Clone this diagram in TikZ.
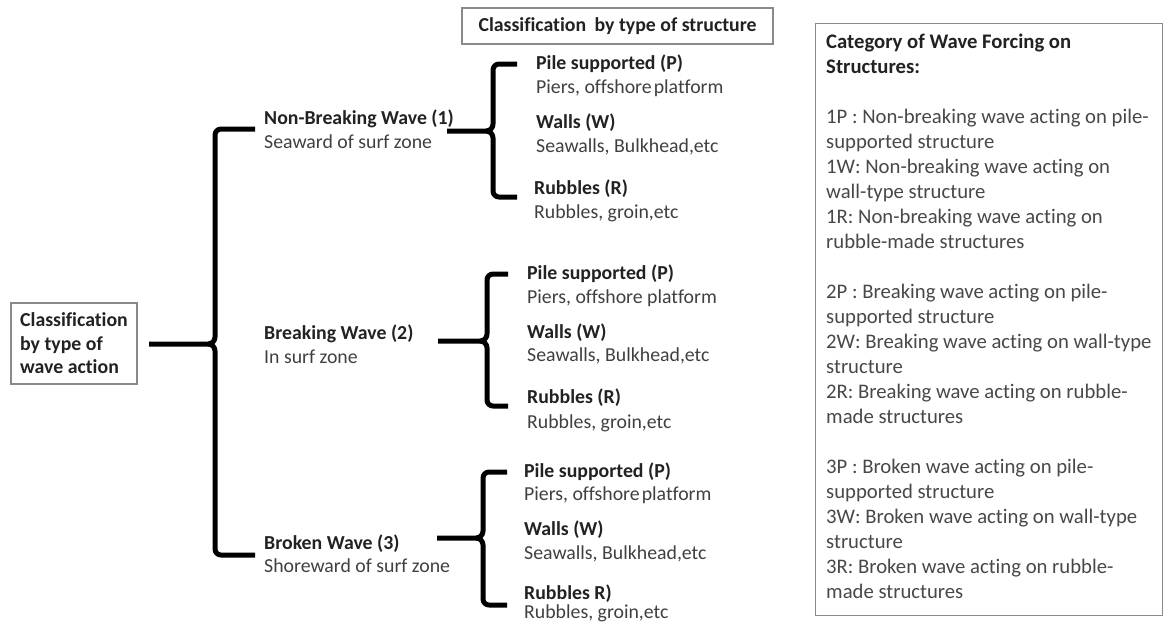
\documentclass[tikz,border=0pt]{standalone}
\usepackage{fontspec}
\setmainfont[Ligatures=NoCommon]{Carlito}
\definecolor{boldtxt}{HTML}{222222}
\definecolor{normtxt}{HTML}{404040}
\definecolor{boxtxt}{HTML}{484848}
\definecolor{boxline}{HTML}{8a8a8a}
\tikzset{
  bracket/.style={line width=5pt, black, line join=round, line cap=butt},
  titletxt/.style={anchor=mid west, inner sep=0pt, yshift=-4pt, text=boldtxt, font=\fontsize{19.8}{24}\selectfont\bfseries},
  subtxt/.style={anchor=mid west, inner sep=0pt, yshift=-4pt, text=normtxt, font=\fontsize{19.8}{24}\selectfont},
  framebox/.style={draw=boxline, line width=1.2pt, inner sep=0pt},
}
% #1 stem x, #2 brace x, #3 tip y, #4 top y, #5 bottom y, #6 arm end x
\newcommand\wbrace[6]{%
  \draw[bracket] (#6,#4) -- ({#2+6},#4) to[out=180,in=90] (#2,{#4+6}) -- (#2,{#3-7}) to[out=-90,in=0] ({#2-7},#3) -- (#1,#3);
  \draw[bracket] ({#2-7},#3) to[out=0,in=90] (#2,{#3+7}) -- (#2,{#5-6}) to[out=-90,in=180] ({#2+6},#5) -- (#6,#5);
}
\begin{document}
\begin{tikzpicture}[x=1pt,y=-1pt]
\useasboundingbox (0,0) rectangle (1164,624);
\clip (0,0) rectangle (1164,624);
\fill[white] (0,0) rectangle (1164,624);

% left box
\node[framebox, minimum width=126pt, minimum height=81pt, align=left,
      text=boldtxt, font=\fontsize{19.8}{23.5}\selectfont\bfseries] (root) at (74,343.5)
  {Classification\\by type of\\wave action};

% top box
\node[framebox, minimum width=311pt, minimum height=36pt, text=boldtxt,
      font=\fontsize{19.8}{24}\selectfont\bfseries] (structhead) at (617.5,26)
  {\raisebox{-1pt}{Classification\hspace{0.2em} by type of structure}};

% wave type nodes
\node[titletxt] (nb) at (264,118) {Non-Breaking Wave (1)};
\node[subtxt] (nbs) at (264,142) {Seaward of surf zone};
\node[titletxt] (bw) at (264,333) {Breaking Wave (2)};
\node[subtxt] (bws) at (264,357) {In surf zone};
\node[titletxt] (bk) at (264,543) {Broken Wave (3)};
\node[subtxt] (bks) at (264,566) {Shoreward of surf zone};

% group 1
\node[titletxt] (p1) at (536,63) {Pile supported (P)};
\node[subtxt] (p1s) at (536,87) {Piers, offshore\hspace{-0.12em} platform};
\node[titletxt] (w1) at (536,122) {Walls (W)};
\node[subtxt] (w1s) at (536,146) {Seawalls, Bulkhead,etc};
\node[titletxt] (r1) at (534,188) {Rubbles (R)};
\node[subtxt] (r1s) at (534,212) {Rubbles, groin,etc};

% group 2
\node[titletxt] (p2) at (527,273) {Pile supported (P)};
\node[subtxt] (p2s) at (527,297) {Piers, offshore platform};
\node[titletxt] (w2) at (527,332) {Walls (W)};
\node[subtxt] (w2s) at (527,355) {Seawalls, Bulkhead,etc};
\node[titletxt] (r2) at (527,397) {Rubbles (R)};
\node[subtxt] (r2s) at (527,422) {Rubbles, groin,etc};

% group 3
\node[titletxt] (p3) at (524,471) {Pile supported (P)};
\node[subtxt] (p3s) at (524,494) {Piers, offshore\hspace{-0.12em} platform};
\node[titletxt] (w3) at (524,529) {Walls (W)};
\node[subtxt] (w3s) at (524,553) {Seawalls, Bulkhead,etc};
\node[titletxt] (r3) at (524,593) {Rubbles R)};
\node[subtxt] (r3s) at (524,612) {Rubbles, groin,etc};

% braces
\wbrace{149}{215}{344}{129}{555}{255}
\wbrace{447}{493}{131}{64}{197}{517}
\wbrace{438}{487}{341}{274}{406}{508}
\wbrace{437}{483}{538}{472}{605}{507}

% right box
\node[framebox, anchor=north west, minimum width=347pt, minimum height=592pt] (catbox) at (815,23) {};
\node[anchor=north west, inner sep=0pt, align=left, text=boxtxt,
      font=\fontsize{20.7}{25}\selectfont] (cattext) at (826,30.5)
  {\strut\textcolor{boldtxt}{\bfseries Category of Wave Forcing on}\\
   \textcolor{boldtxt}{\bfseries Structures:}\\
   \mbox{}\\
   1P : Non-breaking wave acting on pile-\\
   supported structure\\
   1W: Non-breaking wave acting on\\
   wall-type structure\\
   1R: Non-breaking wave acting on\\
   rubble-made structures\\
   \mbox{}\\
   2P : Breaking wave acting on pile-\\
   supported structure\\
   2W: Breaking wave acting on wall-type\\
   structure\\
   2R: Breaking wave acting on rubble-\\
   made structures\\
   \mbox{}\\
   3P : Broken wave acting on pile-\\
   supported structure\\
   3W: Broken wave acting on wall-type\\
   structure\\
   3R: Broken wave acting on rubble-\\
   made structures};
\end{tikzpicture}
\end{document}
